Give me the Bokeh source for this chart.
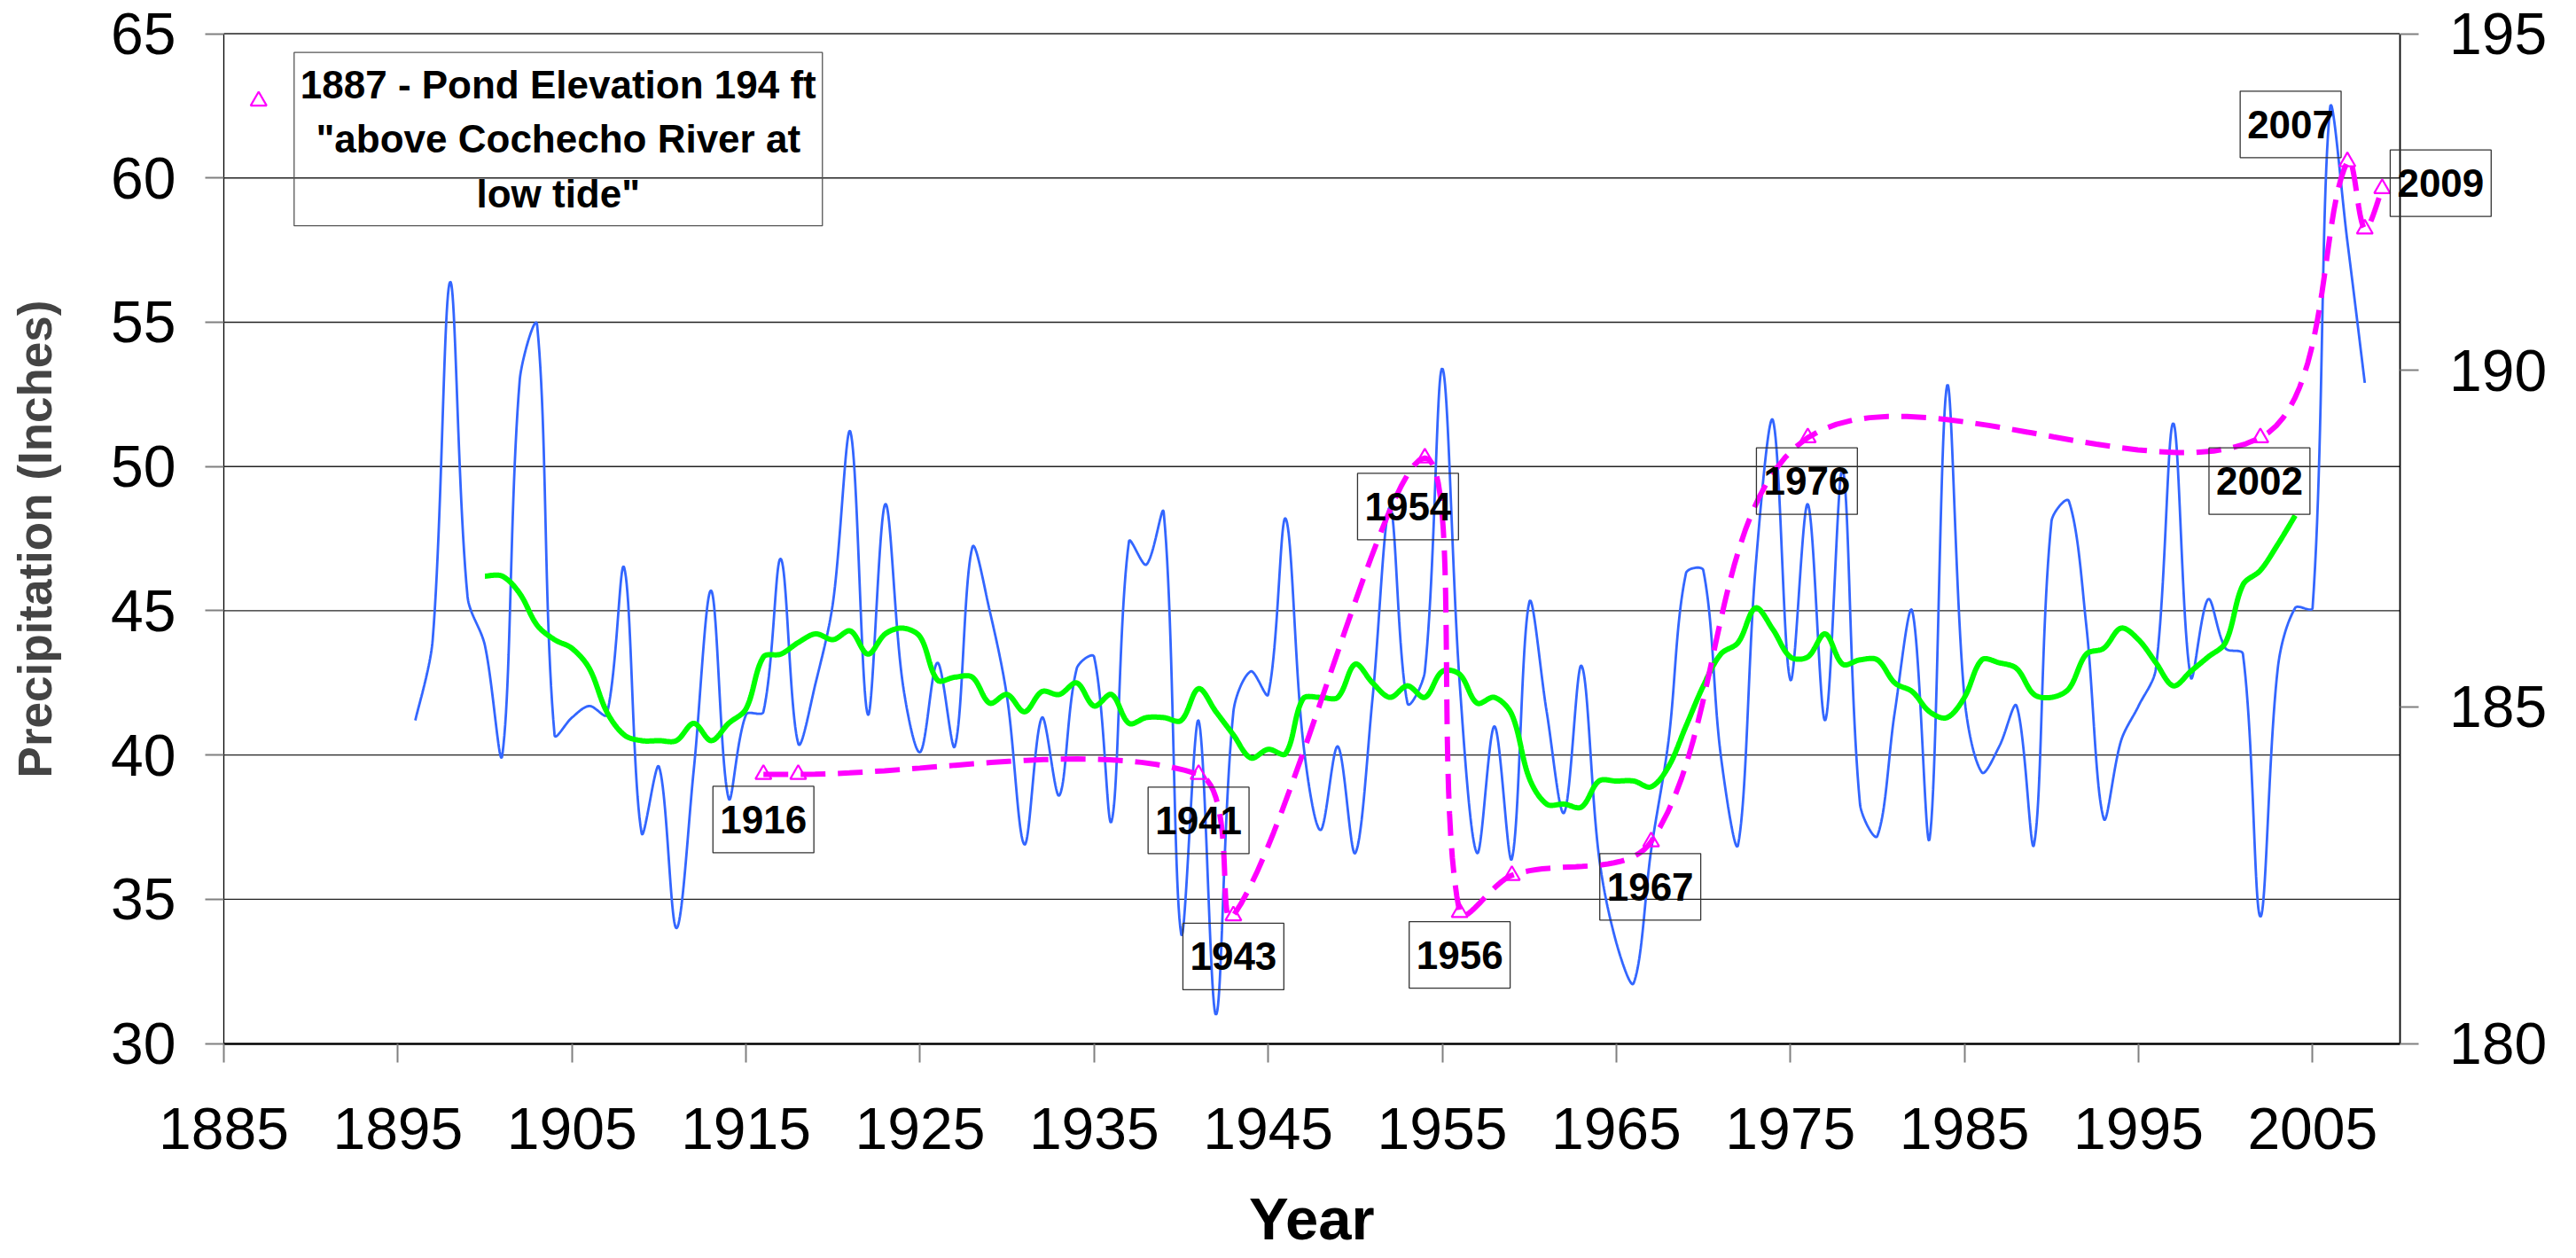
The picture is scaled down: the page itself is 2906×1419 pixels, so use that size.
import numpy as np
from bokeh.plotting import figure
from bokeh.models import Range1d, LinearAxis, FixedTicker, Label
from bokeh.embed import file_html
from bokeh.resources import INLINE

# ---------------- data ----------------
years = list(range(1896, 2009))
precip = [41.2, 44.0, 56.4, 45.5, 43.8, 40.0, 53.0, 54.9, 40.7, 41.3,
          41.7, 41.4, 46.5, 37.3, 39.6, 34.0, 39.5, 45.7, 38.5, 41.4,
          41.5, 46.8, 40.4, 42.5, 45.3, 51.2, 41.4, 48.7, 42.5, 40.1,
          43.2, 40.3, 47.2, 45.0, 42.0, 36.9, 41.3, 38.6, 43.0, 43.4,
          37.7, 47.4, 46.6, 48.4, 33.8, 41.2, 31.0, 41.5, 42.9, 42.1,
          48.2, 40.5, 37.4, 40.3, 36.6, 42.0, 48.6, 41.8, 42.9, 53.4,
          42.5, 36.6, 41.0, 36.4, 45.3, 41.5, 38.0, 43.1, 36.5, 33.5,
          32.1, 36.7, 40.5, 46.3, 46.4, 40.0, 36.9, 46.5, 51.6, 42.6,
          48.7, 41.2, 49.9, 38.3, 37.2, 41.5, 45.0, 37.1, 52.8, 42.0,
          39.4, 40.3, 41.7, 36.9, 48.1, 48.8, 44.5, 37.8, 40.5, 41.7,
          43.0, 51.5, 42.7, 45.4, 43.7, 43.5, 34.4, 43.0, 45.1, 45.1,
          62.4, 57.8, 52.9]

avg_years = list(range(1900, 2005))
avg_precip = [46.2, 46.2, 45.6, 44.5, 44.0, 43.7, 43.0, 41.5, 40.7, 40.5,
              40.5, 40.5, 41.1, 40.5, 41.1, 41.6, 43.4, 43.5, 43.9, 44.2,
              44.0, 44.3, 43.5, 44.2, 44.4, 44.1, 42.6, 42.7, 42.7, 41.8,
              42.1, 41.5, 42.2, 42.1, 42.5, 41.7, 42.1, 41.1, 41.3, 41.3,
              41.2, 42.3, 41.5, 40.7, 39.9, 40.2, 40.05, 41.95, 42.0, 42.0,
              43.15, 42.5, 42.0, 42.4, 42.0, 42.9, 42.8, 41.8, 42.0, 41.4,
              39.2, 38.3, 38.3, 38.2, 39.1, 39.1, 39.1, 38.9, 39.6, 41.0,
              42.4, 43.5, 43.9, 45.1, 44.35, 43.4, 43.4, 44.2, 43.15, 43.3,
              43.3, 42.5, 42.2, 41.5, 41.3, 42.0, 43.3, 43.2, 43.0, 42.1,
              42.0, 42.3, 43.5, 43.7, 44.4, 44.0, 43.2, 42.4, 42.9, 43.4,
              43.9, 45.9, 46.4, 47.3, 48.3]

pond_years = [1916, 1918, 1941, 1943, 1954, 1956, 1959, 1967, 1976, 2002, 2007, 2008, 2009]
pond_elev = [184.0, 184.0, 184.0, 181.9, 188.7, 181.95, 182.5, 183.0, 189.0, 189.0, 193.1, 192.1, 192.7]

pond_1887_year = [1887]
pond_1887_elev = [194.0]

label_years = [1916, 1941, 1943, 1954, 1956, 1967, 1976, 2002, 2007, 2009]

x_ticks = list(range(1885, 2006, 10))
left_ticks = list(range(30, 66, 5))
right_ticks = [180, 185, 190, 195]

X_MIN, X_MAX = 1885, 2010
Y_MIN, Y_MAX = 30, 65
R_MIN, R_MAX = 180, 195

note_text = '1887 - Pond Elevation 194 ft\n"above Cochecho River at\nlow tide"'

# ---------------- layout (pixels) ----------------
CANVAS_W, CANVAS_H = 2898, 1419
PLOT_LEFT, PLOT_RIGHT = 252.0, 2706.5
PLOT_TOP, PLOT_BOTTOM = 37.5, 1176.7

ppx = (PLOT_RIGHT - PLOT_LEFT) / (X_MAX - X_MIN)
ppy = (PLOT_BOTTOM - PLOT_TOP) / (Y_MAX - Y_MIN)
ppr = (PLOT_BOTTOM - PLOT_TOP) / (R_MAX - R_MIN)
x_range = Range1d(X_MIN - PLOT_LEFT / ppx, X_MAX + (CANVAS_W - PLOT_RIGHT) / ppx)
y_range = Range1d(Y_MIN - (CANVAS_H - PLOT_BOTTOM) / ppy, Y_MAX + PLOT_TOP / ppy)
r_range = Range1d(R_MIN - (CANVAS_H - PLOT_BOTTOM) / ppr, R_MAX + PLOT_TOP / ppr)


def smooth(xs, ys, sx, sy, n=24, k=1.0 / 3.0):
    """Excel-like smoothed line: Bezier segments whose control points are
    weighted by the neighbouring chord lengths (computed in screen space)."""
    P = np.column_stack([np.asarray(xs, float) * sx, np.asarray(ys, float) * sy])
    m = len(P)
    cin = P.copy()
    cout = P.copy()
    for i in range(m):
        if i == 0:
            cout[i] = P[0] + (P[1] - P[0]) / 6.0
        elif i == m - 1:
            cin[i] = P[i] - (P[i] - P[i - 1]) / 6.0
        else:
            T = P[i + 1] - P[i - 1]
            d0 = np.hypot(*(P[i] - P[i - 1]))
            d1 = np.hypot(*(P[i + 1] - P[i]))
            s = d0 + d1 if d0 + d1 > 0 else 1.0
            cin[i] = P[i] - T * k * d0 / s
            cout[i] = P[i] + T * k * d1 / s
    t = np.linspace(0.0, 1.0, n, endpoint=False)[:, None]
    pts = []
    for i in range(m - 1):
        a, b, c, d = (1 - t) ** 3, 3 * (1 - t) ** 2 * t, 3 * (1 - t) * t ** 2, t ** 3
        pts.append(a * P[i] + b * cout[i] + c * cin[i + 1] + d * P[i + 1])
    pts.append(P[-1:])
    pts = np.vstack(pts)
    return list(pts[:, 0] / sx), list(pts[:, 1] / sy)


FONT = "Liberation Sans"

p = figure(width=CANVAS_W, height=CANVAS_H, x_range=x_range, y_range=y_range,
           min_border=0, output_backend="svg", toolbar_location=None)
p.extra_y_ranges = {"pond": r_range}
p.outline_line_color = None
p.background_fill_color = "white"
p.border_fill_color = "white"
p.xgrid.visible = False
p.ygrid.visible = False


def style_axis(ax, ticks, standoff):
    ax.ticker = FixedTicker(ticks=ticks)
    ax.axis_line_color = "black"
    ax.major_tick_out = 21
    ax.major_tick_in = 0
    ax.major_tick_line_color = "#808080"
    ax.major_tick_line_width = 2
    ax.minor_tick_line_color = None
    ax.major_label_text_font = FONT
    ax.major_label_text_font_size = "66px"
    ax.major_label_text_color = "black"
    ax.major_label_standoff = standoff


# bottom axis (at y = 30)
xa = p.xaxis[0]
style_axis(xa, x_ticks, 52)
xa.fixed_location = Y_MIN
xa.bounds = (X_MIN, X_MAX)
xa.axis_line_width = 2.5

# left axis (at x = 1885)
ya = p.yaxis[0]
style_axis(ya, left_ticks, 33)
ya.fixed_location = X_MIN
ya.bounds = (Y_MIN, Y_MAX)
ya.axis_line_width = 1.3
ya.axis_label = "Precipitation (Inches)"
ya.axis_label_text_font = FONT
ya.axis_label_text_font_style = "bold"
ya.axis_label_text_font_size = "53px"
ya.axis_label_standoff = 53

# right axis (at x = 2010)
ra = LinearAxis(y_range_name="pond", fixed_location=X_MAX, bounds=(R_MIN, R_MAX))
style_axis(ra, right_ticks, 35)
ra.axis_line_width = 1.8
p.add_layout(ra, "right")

# horizontal grid lines at the left-axis ticks
grid_vals = left_ticks[1:]
p.segment(x0=[X_MIN] * len(grid_vals), y0=grid_vals, x1=[X_MAX] * len(grid_vals),
          y1=grid_vals, line_color="#222222", line_width=1.3)

# ---------------- series ----------------
bx, by = smooth(years, precip, ppx, ppy)
p.line(bx, by, line_color="#3366FF", line_width=2.8)

gx, gy = smooth(avg_years, avg_precip, ppx, ppy)
p.line(gx, gy, line_color="#00FF00", line_width=6)

sx_, sy_ = smooth(pond_years, pond_elev, ppx, ppr)
p.line(sx_, sy_, y_range_name="pond", line_color="#FF00FF", line_width=6,
       line_dash="28 14")
p.scatter(pond_years, pond_elev, y_range_name="pond", marker="triangle",
          size=18, fill_color=None, line_color="#FF00FF", line_width=2.2)
p.scatter(pond_1887_year, pond_1887_elev, y_range_name="pond", marker="triangle",
          size=18, fill_color=None, line_color="#FF00FF", line_width=2.2)

# ---------------- data labels ----------------
label_offsets = {1916: (0, 51), 1941: (0, 52), 1943: (0, 46), 1954: (-19, 55),
                 1956: (0, 48), 1967: (-1, 51), 1976: (-1, 49), 2002: (-1, 49),
                 2007: (-64, -42), 2009: (66, -6)}
for yr in label_years:
    elev = pond_elev[pond_years.index(yr)]
    dx, dy = label_offsets[yr]
    p.add_layout(Label(x=yr, y=elev, y_range_name="pond", x_offset=dx, y_offset=-dy,
                       text=str(yr), text_font=FONT, text_font_style="bold",
                       text_font_size="44px", text_align="center",
                       text_baseline="middle", text_color="black",
                       border_line_color="#333333", border_line_width=1.3,
                       background_fill_color=None, padding=(8, 22)))

p.add_layout(Label(x=pond_1887_year[0], y=pond_1887_elev[0], y_range_name="pond",
                   x_offset=338, y_offset=-43, text=note_text, text_font=FONT,
                   text_font_style="bold", text_font_size="44px",
                   text_align="center", text_baseline="middle",
                   text_line_height=1.25, text_color="black",
                   border_line_color="#555555", border_line_width=1.3,
                   background_fill_color=None, padding=(7, 12)))

# x axis title
p.add_layout(Label(x=(X_MIN + X_MAX) / 2, y=Y_MIN, y_offset=-197,
                   text="Year", text_font=FONT, text_font_style="bold",
                   text_font_size="67px", text_align="center",
                   text_baseline="alphabetic", text_color="black"))

open("out.html", "w").write(file_html(p, INLINE))
